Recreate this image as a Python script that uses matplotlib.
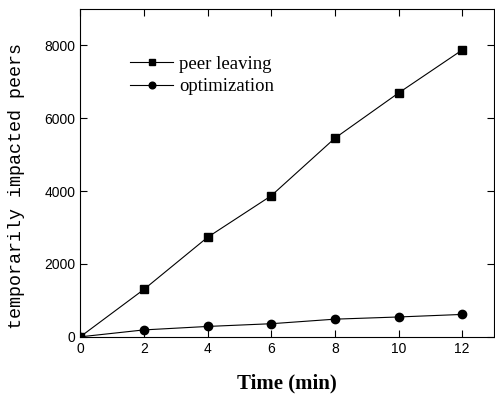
import matplotlib.pyplot as plt

time_min = [0, 2, 4, 6, 8, 10, 12]
peer_leaving = [0, 1300, 2730, 3870, 5450, 6690, 7870]
optimization = [0, 190, 285, 360, 485, 545, 615]

fig = plt.figure(figsize=(4.95, 4.01), dpi=100)
ax = fig.add_axes([0.162, 0.16, 0.836, 0.818])

ax.plot(time_min, peer_leaving, color='black', lw=0.8, marker='s', ms=6, label='peer leaving')
ax.plot(time_min, optimization, color='black', lw=0.8, marker='o', ms=6, label='optimization')

ax.set_xlim(0, 13)
ax.set_ylim(0, 9000)
ax.set_xticks([0, 2, 4, 6, 8, 10, 12])
ax.set_yticks([0, 2000, 4000, 6000, 8000])
ax.tick_params(direction='in', top=True, right=True, length=5, labelsize=10)
for lab in ax.get_xticklabels() + ax.get_yticklabels():
    lab.set_family('Liberation Sans')

ax.set_xlabel('Time (min)', family='Liberation Serif', fontsize=15, fontweight='bold', labelpad=13)
ax.set_ylabel('temporarily impacted peers', family='Liberation Mono', fontsize=13.2)
ax.yaxis.set_label_coords(-0.133, 0.459)

leg = ax.legend(loc='upper left', bbox_to_anchor=(0.121, 0.858), frameon=False,
                prop={'family': 'Liberation Serif', 'size': 13.5}, handlelength=2.3,
                handletextpad=0.3, labelspacing=0.3, borderpad=0, borderaxespad=0,
                markerscale=0.8)

fig.savefig('out.png', dpi=100)
